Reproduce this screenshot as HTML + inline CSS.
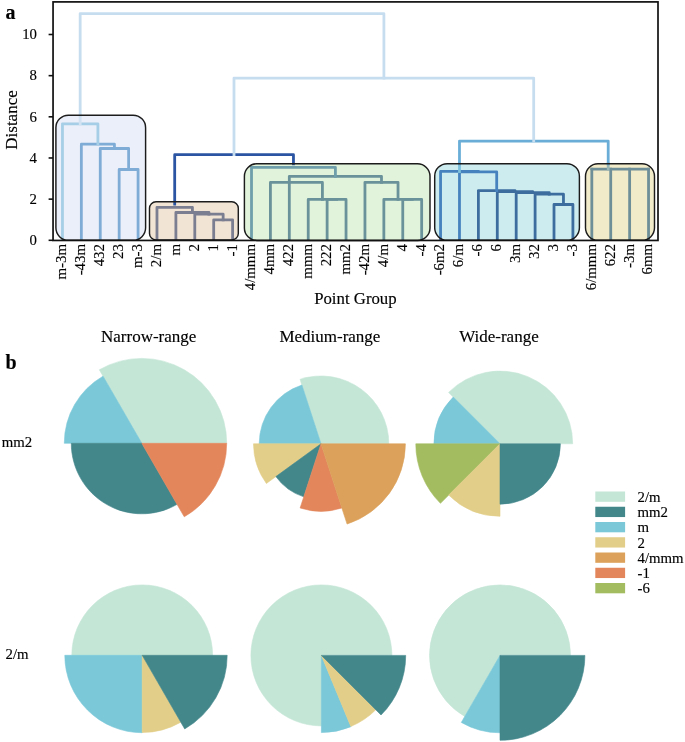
<!DOCTYPE html>
<html><head><meta charset="utf-8"><title>figure</title>
<style>
html,body{margin:0;padding:0;background:#fff;width:685px;height:742px;overflow:hidden;}
svg{display:block;}
text{font-family:"Liberation Serif",serif;fill:#000;}
.t{filter:grayscale(1);}
.t text{stroke:#000;stroke-width:0.15px;}
</style></head>
<body>
<svg width="685" height="742" viewBox="0 0 685 742">
<rect width="685" height="742" fill="#fff"/>
<rect x="55.9" y="115.2" width="89.70" height="125.10" rx="12.5" ry="12.5" fill="#eaeff9"/>
<rect x="149.5" y="201.8" width="88.80" height="38.20" rx="6.5" ry="6.5" fill="#f2e4d5"/>
<rect x="244.4" y="163.8" width="185.60" height="76.60" rx="12.5" ry="12.5" fill="#e1f3da"/>
<rect x="434.7" y="163.7" width="144.70" height="76.60" rx="12.5" ry="12.5" fill="#cdecf0"/>
<rect x="585.5" y="163.8" width="69.00" height="76.50" rx="12.5" ry="12.5" fill="#f2ebc9"/>
<clipPath id="ax"><rect x="53.05" y="1.9" width="604.75" height="238.35"/></clipPath>
<g clip-path="url(#ax)">
<polyline points="119.17,243.30 119.17,169.50 138.07,169.50 138.07,243.30" fill="none" stroke="#7facd6" stroke-width="2.8" stroke-linejoin="round" stroke-linecap="square"/>
<polyline points="100.26,243.30 100.26,148.50 128.62,148.50 128.62,169.50" fill="none" stroke="#7facd6" stroke-width="2.8" stroke-linejoin="round" stroke-linecap="square"/>
<polyline points="81.36,243.30 81.36,144.20 114.44,144.20 114.44,148.50" fill="none" stroke="#7facd6" stroke-width="2.8" stroke-linejoin="round" stroke-linecap="square"/>
<polyline points="62.45,243.30 62.45,123.80 97.90,123.80 97.90,144.20" fill="none" stroke="#a6cee6" stroke-width="2.8" stroke-linejoin="round" stroke-linecap="square"/>
<polyline points="213.70,243.30 213.70,219.80 232.60,219.80 232.60,243.30" fill="none" stroke="#7b7d90" stroke-width="2.8" stroke-linejoin="round" stroke-linecap="square"/>
<polyline points="194.79,243.30 194.79,214.20 223.15,214.20 223.15,219.80" fill="none" stroke="#7b7d90" stroke-width="2.8" stroke-linejoin="round" stroke-linecap="square"/>
<polyline points="175.89,243.30 175.89,212.50 208.97,212.50 208.97,214.20" fill="none" stroke="#7b7d90" stroke-width="2.8" stroke-linejoin="round" stroke-linecap="square"/>
<polyline points="156.98,243.30 156.98,207.30 192.43,207.30 192.43,212.50" fill="none" stroke="#7b7d90" stroke-width="2.8" stroke-linejoin="round" stroke-linecap="square"/>
<polyline points="327.13,243.30 327.13,199.40 346.04,199.40 346.04,243.30" fill="none" stroke="#6a929b" stroke-width="2.8" stroke-linejoin="round" stroke-linecap="square"/>
<polyline points="308.23,243.30 308.23,199.40 336.59,199.40 336.59,199.40" fill="none" stroke="#6a929b" stroke-width="2.8" stroke-linejoin="round" stroke-linecap="square"/>
<polyline points="270.42,243.30 270.42,182.40 322.41,182.40 322.41,199.40" fill="none" stroke="#6a929b" stroke-width="2.8" stroke-linejoin="round" stroke-linecap="square"/>
<polyline points="402.76,243.30 402.76,199.40 421.66,199.40 421.66,243.30" fill="none" stroke="#6a929b" stroke-width="2.8" stroke-linejoin="round" stroke-linecap="square"/>
<polyline points="383.85,243.30 383.85,199.40 412.21,199.40 412.21,199.40" fill="none" stroke="#6a929b" stroke-width="2.8" stroke-linejoin="round" stroke-linecap="square"/>
<polyline points="364.95,243.30 364.95,182.30 398.03,182.30 398.03,199.40" fill="none" stroke="#6a929b" stroke-width="2.8" stroke-linejoin="round" stroke-linecap="square"/>
<polyline points="289.32,243.30 289.32,176.30 381.49,176.30 381.49,182.30" fill="none" stroke="#6a929b" stroke-width="2.8" stroke-linejoin="round" stroke-linecap="square"/>
<polyline points="251.51,243.30 251.51,167.40 335.41,167.40 335.41,176.30" fill="none" stroke="#6f9fab" stroke-width="2.8" stroke-linejoin="round" stroke-linecap="square"/>
<polyline points="554.01,243.30 554.01,204.50 572.91,204.50 572.91,243.30" fill="none" stroke="#3c6d9e" stroke-width="2.8" stroke-linejoin="round" stroke-linecap="square"/>
<polyline points="535.10,243.30 535.10,194.20 563.46,194.20 563.46,204.50" fill="none" stroke="#3c6d9e" stroke-width="2.8" stroke-linejoin="round" stroke-linecap="square"/>
<polyline points="516.19,243.30 516.19,192.70 549.28,192.70 549.28,194.20" fill="none" stroke="#3c6d9e" stroke-width="2.8" stroke-linejoin="round" stroke-linecap="square"/>
<polyline points="497.29,243.30 497.29,191.70 532.74,191.70 532.74,192.70" fill="none" stroke="#3c6d9e" stroke-width="2.8" stroke-linejoin="round" stroke-linecap="square"/>
<polyline points="478.38,243.30 478.38,190.60 515.01,190.60 515.01,191.70" fill="none" stroke="#3c6d9e" stroke-width="2.8" stroke-linejoin="round" stroke-linecap="square"/>
<polyline points="440.57,243.30 440.57,171.40 478.50,171.40 478.50,171.60" fill="none" stroke="#4683be" stroke-width="2.8" stroke-linejoin="round" stroke-linecap="square"/>
<polyline points="459.48,171.80 459.48,171.90 496.70,171.90 496.70,190.60" fill="none" stroke="#4683be" stroke-width="2.8" stroke-linejoin="round" stroke-linecap="square"/>
<line x1="459.48" y1="243.30" x2="459.48" y2="171.80" stroke="#4683be" stroke-width="2.8" stroke-linecap="square"/>
<line x1="591.82" y1="243.30" x2="591.82" y2="169.20" stroke="#6e8e98" stroke-width="2.8" stroke-linecap="square"/>
<line x1="610.72" y1="243.30" x2="610.72" y2="169.20" stroke="#6e8e98" stroke-width="2.8" stroke-linecap="square"/>
<line x1="629.63" y1="243.30" x2="629.63" y2="169.20" stroke="#6e8e98" stroke-width="2.8" stroke-linecap="square"/>
<line x1="648.54" y1="243.30" x2="648.54" y2="169.20" stroke="#6e8e98" stroke-width="2.8" stroke-linecap="square"/>
<line x1="591.82" y1="169.2" x2="648.54" y2="169.2" stroke="#6e8e98" stroke-width="2.8" stroke-linecap="round"/>
<line x1="459.48" y1="171.60" x2="459.48" y2="163.80" stroke="#7cc0dc" stroke-width="2.8" stroke-linecap="square"/>
<line x1="608.20" y1="169.20" x2="608.20" y2="163.80" stroke="#98b6b4" stroke-width="2.8" stroke-linecap="square"/>
<polyline points="459.48,163.80 459.48,141.10 608.20,141.10 608.20,163.80" fill="none" stroke="#6aaed8" stroke-width="2.8" stroke-linejoin="round" stroke-linecap="square"/>
<polyline points="174.70,204.00 174.70,154.70 293.46,154.70 293.46,163.80" fill="none" stroke="#2b55a2" stroke-width="2.8" stroke-linejoin="round" stroke-linecap="square"/>
<polyline points="234.00,154.70 234.00,78.10 533.70,78.10 533.70,141.10" fill="none" stroke="#c6ddf0" stroke-width="2.8" stroke-linejoin="round" stroke-linecap="square"/>
<line x1="80.17" y1="123.80" x2="80.17" y2="115.20" stroke="#d2e2f2" stroke-width="2.8" stroke-linecap="square"/>
<polyline points="80.17,115.20 80.17,13.60 383.90,13.60 383.90,78.10" fill="none" stroke="#c6ddf0" stroke-width="2.8" stroke-linejoin="round" stroke-linecap="square"/>
</g>
<rect x="55.9" y="115.2" width="89.70" height="125.10" rx="12.5" ry="12.5" fill="none" stroke="#1c1c1c" stroke-width="1.45"/>
<rect x="149.5" y="201.8" width="88.80" height="38.20" rx="6.5" ry="6.5" fill="none" stroke="#1c1c1c" stroke-width="1.45"/>
<rect x="244.4" y="163.8" width="185.60" height="76.60" rx="12.5" ry="12.5" fill="none" stroke="#1c1c1c" stroke-width="1.45"/>
<rect x="434.7" y="163.7" width="144.70" height="76.60" rx="12.5" ry="12.5" fill="none" stroke="#1c1c1c" stroke-width="1.45"/>
<rect x="585.5" y="163.8" width="69.00" height="76.50" rx="12.5" ry="12.5" fill="none" stroke="#1c1c1c" stroke-width="1.45"/>
<rect x="53.05" y="1.9" width="604.95" height="238.55" fill="none" stroke="#111" stroke-width="1.7"/>
<line x1="48.6" y1="240.30" x2="53" y2="240.30" stroke="#111" stroke-width="1.6"/>
<line x1="48.6" y1="199.14" x2="53" y2="199.14" stroke="#111" stroke-width="1.6"/>
<line x1="48.6" y1="157.98" x2="53" y2="157.98" stroke="#111" stroke-width="1.6"/>
<line x1="48.6" y1="116.82" x2="53" y2="116.82" stroke="#111" stroke-width="1.6"/>
<line x1="48.6" y1="75.66" x2="53" y2="75.66" stroke="#111" stroke-width="1.6"/>
<line x1="48.6" y1="34.50" x2="53" y2="34.50" stroke="#111" stroke-width="1.6"/>
<path d="M141.80,443.30 L226.70,443.30 A84.90,84.90 0 0 0 99.35,369.77 Z" fill="#c4e6d6" stroke="#c4e6d6" stroke-width="0.6" stroke-linejoin="round"/>
<path d="M141.80,443.30 L103.05,376.18 A77.50,77.50 0 0 0 64.30,443.30 Z" fill="#7ac8d8" stroke="#7ac8d8" stroke-width="0.6" stroke-linejoin="round"/>
<path d="M141.80,443.30 L71.30,443.30 A70.50,70.50 0 0 0 177.05,504.35 Z" fill="#43878b" stroke="#43878b" stroke-width="0.6" stroke-linejoin="round"/>
<path d="M141.80,443.30 L184.25,516.83 A84.90,84.90 0 0 0 226.70,443.30 Z" fill="#e3865c" stroke="#e3865c" stroke-width="0.6" stroke-linejoin="round"/>
<path d="M321.00,443.80 L388.80,443.80 A67.80,67.80 0 0 0 300.05,379.32 Z" fill="#c4e6d6" stroke="#c4e6d6" stroke-width="0.6" stroke-linejoin="round"/>
<path d="M321.00,443.80 L301.90,385.02 A61.80,61.80 0 0 0 259.20,443.80 Z" fill="#7ac8d8" stroke="#7ac8d8" stroke-width="0.6" stroke-linejoin="round"/>
<path d="M321.00,443.80 L253.50,443.80 A67.50,67.50 0 0 0 266.39,483.48 Z" fill="#e2ce88" stroke="#e2ce88" stroke-width="0.6" stroke-linejoin="round"/>
<path d="M321.00,443.80 L275.86,476.60 A55.80,55.80 0 0 0 303.76,496.87 Z" fill="#43878b" stroke="#43878b" stroke-width="0.6" stroke-linejoin="round"/>
<path d="M321.00,443.80 L300.14,508.00 A67.50,67.50 0 0 0 341.86,508.00 Z" fill="#e3865c" stroke="#e3865c" stroke-width="0.6" stroke-linejoin="round"/>
<path d="M321.00,443.80 L347.08,524.07 A84.40,84.40 0 0 0 405.40,443.80 Z" fill="#dca15a" stroke="#dca15a" stroke-width="0.6" stroke-linejoin="round"/>
<path d="M500.00,443.80 L572.70,443.80 A72.70,72.70 0 0 0 448.59,392.39 Z" fill="#c4e6d6" stroke="#c4e6d6" stroke-width="0.6" stroke-linejoin="round"/>
<path d="M500.00,443.80 L453.26,397.06 A66.10,66.10 0 0 0 433.90,443.80 Z" fill="#7ac8d8" stroke="#7ac8d8" stroke-width="0.6" stroke-linejoin="round"/>
<path d="M500.00,443.80 L415.80,443.80 A84.20,84.20 0 0 0 440.46,503.34 Z" fill="#a3bc60" stroke="#a3bc60" stroke-width="0.6" stroke-linejoin="round"/>
<path d="M500.00,443.80 L448.73,495.07 A72.50,72.50 0 0 0 500.00,516.30 Z" fill="#e2ce88" stroke="#e2ce88" stroke-width="0.6" stroke-linejoin="round"/>
<path d="M500.00,443.80 L500.00,504.20 A60.40,60.40 0 0 0 560.40,443.80 Z" fill="#43878b" stroke="#43878b" stroke-width="0.6" stroke-linejoin="round"/>
<path d="M142.20,655.30 L212.60,655.30 A70.40,70.40 0 0 0 71.80,655.30 Z" fill="#c4e6d6" stroke="#c4e6d6" stroke-width="0.6" stroke-linejoin="round"/>
<path d="M142.20,655.30 L64.80,655.30 A77.40,77.40 0 0 0 142.20,732.70 Z" fill="#7ac8d8" stroke="#7ac8d8" stroke-width="0.6" stroke-linejoin="round"/>
<path d="M142.20,655.30 L142.20,732.50 A77.20,77.20 0 0 0 180.80,722.16 Z" fill="#e2ce88" stroke="#e2ce88" stroke-width="0.6" stroke-linejoin="round"/>
<path d="M142.20,655.30 L184.70,728.91 A85.00,85.00 0 0 0 227.20,655.30 Z" fill="#43878b" stroke="#43878b" stroke-width="0.6" stroke-linejoin="round"/>
<path d="M321.40,655.40 L391.90,655.40 A70.50,70.50 0 1 0 321.40,725.90 Z" fill="#c4e6d6" stroke="#c4e6d6" stroke-width="0.6" stroke-linejoin="round"/>
<path d="M321.40,655.40 L321.40,732.60 A77.20,77.20 0 0 0 350.94,726.72 Z" fill="#7ac8d8" stroke="#7ac8d8" stroke-width="0.6" stroke-linejoin="round"/>
<path d="M321.40,655.40 L350.83,726.45 A76.90,76.90 0 0 0 375.78,709.78 Z" fill="#e2ce88" stroke="#e2ce88" stroke-width="0.6" stroke-linejoin="round"/>
<path d="M321.40,655.40 L381.01,715.01 A84.30,84.30 0 0 0 405.70,655.40 Z" fill="#43878b" stroke="#43878b" stroke-width="0.6" stroke-linejoin="round"/>
<path d="M500.00,655.40 L570.50,655.40 A70.50,70.50 0 1 0 464.75,716.45 Z" fill="#c4e6d6" stroke="#c4e6d6" stroke-width="0.6" stroke-linejoin="round"/>
<path d="M500.00,655.40 L461.30,722.43 A77.40,77.40 0 0 0 500.00,732.80 Z" fill="#7ac8d8" stroke="#7ac8d8" stroke-width="0.6" stroke-linejoin="round"/>
<path d="M500.00,655.40 L500.00,740.30 A84.90,84.90 0 0 0 584.90,655.40 Z" fill="#43878b" stroke="#43878b" stroke-width="0.6" stroke-linejoin="round"/>
<rect x="595.3" y="491.50" width="29.8" height="10.3" fill="#c4e6d6"/>
<rect x="595.3" y="506.75" width="29.8" height="10.3" fill="#43878b"/>
<rect x="595.3" y="522.00" width="29.8" height="10.3" fill="#7ac8d8"/>
<rect x="595.3" y="537.25" width="29.8" height="10.3" fill="#e2ce88"/>
<rect x="595.3" y="552.50" width="29.8" height="10.3" fill="#dca15a"/>
<rect x="595.3" y="567.75" width="29.8" height="10.3" fill="#e3865c"/>
<rect x="595.3" y="583.00" width="29.8" height="10.3" fill="#a3bc60"/>
<g class="t">
<text x="37" y="245.10" text-anchor="end" font-size="14.8">0</text>
<text x="37" y="203.94" text-anchor="end" font-size="14.8">2</text>
<text x="37" y="162.78" text-anchor="end" font-size="14.8">4</text>
<text x="37" y="121.62" text-anchor="end" font-size="14.8">6</text>
<text x="37" y="80.46" text-anchor="end" font-size="14.8">8</text>
<text x="37" y="39.30" text-anchor="end" font-size="14.8">10</text>
<text transform="translate(17.2,120) rotate(-90)" text-anchor="middle" font-size="17">Distance</text>
<text x="355.4" y="303.6" text-anchor="middle" font-size="16.8">Point Group</text>
<text x="5.5" y="19" font-size="20" font-weight="bold">a</text>
<text x="5.5" y="368.6" font-size="20" font-weight="bold">b</text>
<text transform="translate(66.35,244.1) rotate(-90)" text-anchor="end" font-size="14.8">m-3m</text>
<text transform="translate(85.26,244.1) rotate(-90)" text-anchor="end" font-size="14.8">-43m</text>
<text transform="translate(104.16,244.1) rotate(-90)" text-anchor="end" font-size="14.8">432</text>
<text transform="translate(123.07,244.1) rotate(-90)" text-anchor="end" font-size="14.8">23</text>
<text transform="translate(141.97,244.1) rotate(-90)" text-anchor="end" font-size="14.8">m-3</text>
<text transform="translate(160.88,244.1) rotate(-90)" text-anchor="end" font-size="14.8">2/m</text>
<text transform="translate(179.79,244.1) rotate(-90)" text-anchor="end" font-size="14.8">m</text>
<text transform="translate(198.69,244.1) rotate(-90)" text-anchor="end" font-size="14.8">2</text>
<text transform="translate(217.60,244.1) rotate(-90)" text-anchor="end" font-size="14.8">1</text>
<text transform="translate(236.50,244.1) rotate(-90)" text-anchor="end" font-size="14.8">-1</text>
<text transform="translate(255.41,244.1) rotate(-90)" text-anchor="end" font-size="14.8">4/mmm</text>
<text transform="translate(274.32,244.1) rotate(-90)" text-anchor="end" font-size="14.8">4mm</text>
<text transform="translate(293.22,244.1) rotate(-90)" text-anchor="end" font-size="14.8">422</text>
<text transform="translate(312.13,244.1) rotate(-90)" text-anchor="end" font-size="14.8">mmm</text>
<text transform="translate(331.03,244.1) rotate(-90)" text-anchor="end" font-size="14.8">222</text>
<text transform="translate(349.94,244.1) rotate(-90)" text-anchor="end" font-size="14.8">mm2</text>
<text transform="translate(368.85,244.1) rotate(-90)" text-anchor="end" font-size="14.8">-42m</text>
<text transform="translate(387.75,244.1) rotate(-90)" text-anchor="end" font-size="14.8">4/m</text>
<text transform="translate(406.66,244.1) rotate(-90)" text-anchor="end" font-size="14.8">4</text>
<text transform="translate(425.56,244.1) rotate(-90)" text-anchor="end" font-size="14.8">-4</text>
<text transform="translate(444.47,244.1) rotate(-90)" text-anchor="end" font-size="14.8">-6m2</text>
<text transform="translate(463.38,244.1) rotate(-90)" text-anchor="end" font-size="14.8">6/m</text>
<text transform="translate(482.28,244.1) rotate(-90)" text-anchor="end" font-size="14.8">-6</text>
<text transform="translate(501.19,244.1) rotate(-90)" text-anchor="end" font-size="14.8">6</text>
<text transform="translate(520.09,244.1) rotate(-90)" text-anchor="end" font-size="14.8">3m</text>
<text transform="translate(539.00,244.1) rotate(-90)" text-anchor="end" font-size="14.8">32</text>
<text transform="translate(557.91,244.1) rotate(-90)" text-anchor="end" font-size="14.8">3</text>
<text transform="translate(576.81,244.1) rotate(-90)" text-anchor="end" font-size="14.8">-3</text>
<text transform="translate(595.72,244.1) rotate(-90)" text-anchor="end" font-size="14.8">6/mmm</text>
<text transform="translate(614.62,244.1) rotate(-90)" text-anchor="end" font-size="14.8">622</text>
<text transform="translate(633.53,244.1) rotate(-90)" text-anchor="end" font-size="14.8">-3m</text>
<text transform="translate(652.44,244.1) rotate(-90)" text-anchor="end" font-size="14.8">6mm</text>
<text x="148.7" y="342.4" text-anchor="middle" font-size="17">Narrow-range</text>
<text x="329.9" y="342.4" text-anchor="middle" font-size="17">Medium-range</text>
<text x="498.9" y="342.4" text-anchor="middle" font-size="17">Wide-range</text>
<text x="17" y="446.7" text-anchor="middle" font-size="14.8">mm2</text>
<text x="17" y="658.7" text-anchor="middle" font-size="14.8">2/m</text>
<text x="637.6" y="501.80" font-size="14.8">2/m</text>
<text x="637.6" y="517.05" font-size="14.8">mm2</text>
<text x="637.6" y="532.30" font-size="14.8">m</text>
<text x="637.6" y="547.55" font-size="14.8">2</text>
<text x="637.6" y="562.80" font-size="14.8">4/mmm</text>
<text x="637.6" y="578.05" font-size="14.8">-1</text>
<text x="637.6" y="593.30" font-size="14.8">-6</text>
</g>
</svg>
</body></html>
